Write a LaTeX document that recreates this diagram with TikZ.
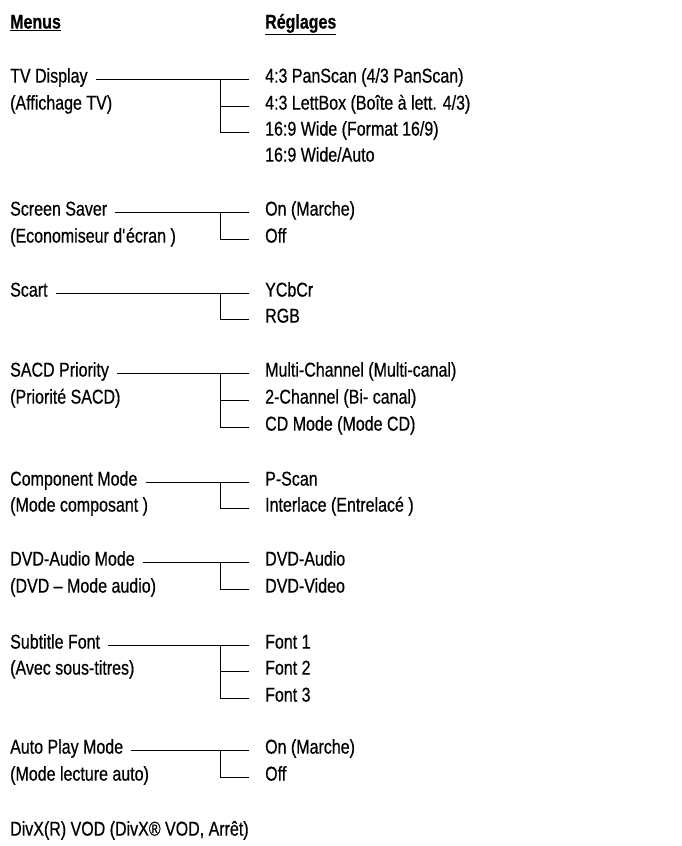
\documentclass[tikz,border=0pt]{standalone}
\usepackage{fontspec}
\setmainfont{Liberation Sans}[FakeStretch=0.80,FakeBold=0.5]
\begin{document}
\begin{tikzpicture}[x=1pt,y=-1pt,
  txt/.style={inner sep=0pt, anchor=west, text height=0.72em, text depth=0pt,
    font=\fontsize{20}{24}\selectfont},
  conn/.style={line width=0.9pt}]
\useasboundingbox (0,0) rectangle (682,846);
% headers
\node[txt] (hm) at (10,25) {\underline{\textbf{Menus}}};
\node[txt] (hr) at (265,25) {\underline{\textbf{Réglages}}};
% TV Display
\node[txt] (tv) at (10,79) {TV Display};
\node[txt] (tvb) at (10,106) {(Affichage TV)};
\node[txt] (tvo1) at (265,79) {4:3 PanScan (4/3 PanScan)};
\node[txt] (tvo2) at (265,106) {4:3 LettBox (Boîte à lett. 4/3)};
\node[txt] (tvo3) at (265,132) {16:9 Wide (Format 16/9)};
\node[txt] (tvo4) at (265,158) {16:9 Wide/Auto};
\draw[conn] ([xshift=8pt]tv.east) -- ([xshift=-16pt]tvo1.west);
\draw[conn] ([xshift=-45pt]tvo1.west) |- ([xshift=-16pt]tvo3.west);
\draw[conn] ([xshift=-45pt]tvo2.west) -- ([xshift=-16pt]tvo2.west);
% Screen Saver
\node[txt] (ss) at (10,212) {Screen Saver};
\node[txt] (ssb) at (10,239) {(Economiseur d\textquotesingle écran )};
\node[txt] (sso1) at (265,212) {On (Marche)};
\node[txt] (sso2) at (265,239) {Off};
\draw[conn] ([xshift=8pt]ss.east) -- ([xshift=-16pt]sso1.west);
\draw[conn] ([xshift=-45pt]sso1.west) |- ([xshift=-16pt]sso2.west);
% Scart
\node[txt] (sc) at (10,293) {Scart};
\node[txt] (sco1) at (265,293) {YCbCr};
\node[txt] (sco2) at (265,319) {RGB};
\draw[conn] ([xshift=8pt]sc.east) -- ([xshift=-16pt]sco1.west);
\draw[conn] ([xshift=-45pt]sco1.west) |- ([xshift=-16pt]sco2.west);
% SACD
\node[txt] (sa) at (10,373) {SACD Priority};
\node[txt] (sab) at (10,400) {(Priorité SACD)};
\node[txt] (sao1) at (265,373) {Multi-Channel (Multi-canal)};
\node[txt] (sao2) at (265,400) {2-Channel (Bi- canal)};
\node[txt] (sao3) at (265,427) {CD Mode (Mode CD)};
\draw[conn] ([xshift=8pt]sa.east) -- ([xshift=-16pt]sao1.west);
\draw[conn] ([xshift=-45pt]sao1.west) |- ([xshift=-16pt]sao3.west);
\draw[conn] ([xshift=-45pt]sao2.west) -- ([xshift=-16pt]sao2.west);
% Component
\node[txt] (cm) at (10,482) {Component Mode};
\node[txt] (cmb) at (10,508) {(Mode composant )};
\node[txt] (cmo1) at (265,482) {P-Scan};
\node[txt] (cmo2) at (265,508) {Interlace (Entrelacé )};
\draw[conn] ([xshift=8pt]cm.east) -- ([xshift=-16pt]cmo1.west);
\draw[conn] ([xshift=-45pt]cmo1.west) |- ([xshift=-16pt]cmo2.west);
% DVD-Audio
\node[txt] (da) at (10,562) {DVD-Audio Mode};
\node[txt] (dab) at (10,589) {(DVD – Mode audio)};
\node[txt] (dao1) at (265,562) {DVD-Audio};
\node[txt] (dao2) at (265,589) {DVD-Video};
\draw[conn] ([xshift=8pt]da.east) -- ([xshift=-16pt]dao1.west);
\draw[conn] ([xshift=-45pt]dao1.west) |- ([xshift=-16pt]dao2.west);
% Subtitle
\node[txt] (sf) at (10,645) {Subtitle Font};
\node[txt] (sfb) at (10,671) {(Avec sous-titres)};
\node[txt] (sfo1) at (265,645) {Font 1};
\node[txt] (sfo2) at (265,671) {Font 2};
\node[txt] (sfo3) at (265,698) {Font 3};
\draw[conn] ([xshift=8pt]sf.east) -- ([xshift=-16pt]sfo1.west);
\draw[conn] ([xshift=-45pt]sfo1.west) |- ([xshift=-16pt]sfo3.west);
\draw[conn] ([xshift=-45pt]sfo2.west) -- ([xshift=-16pt]sfo2.west);
% Auto Play
\node[txt] (ap) at (10,750) {Auto Play Mode};
\node[txt] (apb) at (10,777) {(Mode lecture auto)};
\node[txt] (apo1) at (265,750) {On (Marche)};
\node[txt] (apo2) at (265,777) {Off};
\draw[conn] ([xshift=8pt]ap.east) -- ([xshift=-16pt]apo1.west);
\draw[conn] ([xshift=-45pt]apo1.west) |- ([xshift=-16pt]apo2.west);
% DivX
\node[txt] (dx) at (10,832) {DivX(R) VOD (DivX® VOD, Arrêt)};
\end{tikzpicture}
\end{document}
